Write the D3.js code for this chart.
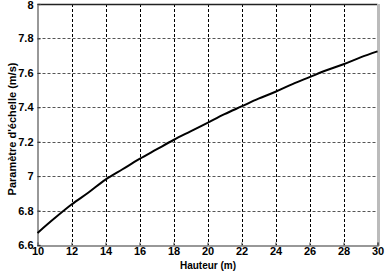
<!DOCTYPE html>
<html>
<head>
<meta charset="utf-8">
<script src="https://cdn.jsdelivr.net/npm/d3@7"></script>
<style>
    body { margin: 0; background: #fff; }
    svg text { font-family: "Liberation Sans", Arial, sans-serif; font-weight: bold; fill: #000; }
</style>
</head>
<body>
<div id="chart"></div>
<script>
// hauteur (m) et parametre d'echelle (m/s)
var hauteurs = [10, 11, 12, 13, 14, 15, 16, 17, 18, 19, 20, 21, 22, 23, 24, 25, 26, 27, 28, 29, 30];
var parametre = [6.67, 6.755, 6.835, 6.905, 6.98, 7.04, 7.10, 7.155, 7.21, 7.26, 7.31, 7.36, 7.405, 7.45, 7.49, 7.535, 7.575, 7.615, 7.65, 7.69, 7.725];
var xTicks = [10, 12, 14, 16, 18, 20, 22, 24, 26, 28, 30];
var yTicks = [6.6, 6.8, 7, 7.2, 7.4, 7.6, 7.8, 8];

var width = 386, height = 273;
// attention: "top" est deja pris par window.top
var pLeft = 37.5, pRight = 377.5, pTop = 4, pBottom = 245;

var svg = d3.select('#chart').append('svg').attr('width', width).attr('height', height);

var x = d3.scaleLinear().domain([10, 30]).range([pLeft, pRight]);
var y = d3.scaleLinear().domain([6.6, 8]).range([pBottom, pTop]);

// grille pointillee
svg.append('g').selectAll('line').data(xTicks.slice(1, -1)).enter().append('line')
    .attr('x1', function(d) { return Math.round(x(d)) + 0.5; })
    .attr('x2', function(d) { return Math.round(x(d)) + 0.5; })
    .attr('y1', pTop).attr('y2', pBottom)
    .style('stroke', '#000').style('stroke-width', 1).style('stroke-dasharray', '3,2');
svg.append('g').selectAll('line').data(yTicks.slice(1, -1)).enter().append('line')
    .attr('y1', function(d) { return Math.round(y(d)) + 0.5; })
    .attr('y2', function(d) { return Math.round(y(d)) + 0.5; })
    .attr('x1', pLeft).attr('x2', pRight)
    .style('stroke', '#555').style('stroke-width', 1).style('stroke-dasharray', '3,2');

// cadre
svg.append('line').attr('x1', pLeft).attr('x2', pRight).attr('y1', pTop + 0.5).attr('y2', pTop + 0.5)
    .style('stroke', '#222').style('stroke-width', 1.5);
svg.append('rect').attr('x', pRight - 0.5).attr('y', pTop).attr('width', 3).attr('height', pBottom - pTop + 1)
    .style('fill', '#bbb');

// axes
var xAxis = d3.axisBottom(x).tickValues(xTicks).tickSize(-3).tickPadding(2).tickFormat(d3.format('d'));
var yAxis = d3.axisLeft(y).tickValues(yTicks).tickSize(-3).tickPadding(4).tickFormat(function(d) { return String(d); });

var gx = svg.append('g').attr('transform', 'translate(0,' + (pBottom + 0.5) + ')').call(xAxis);
var gy = svg.append('g').attr('transform', 'translate(' + pLeft + ',0)').call(yAxis);
gx.select('.domain').style('stroke', '#777').style('stroke-width', 1.5);
gy.select('.domain').style('stroke', '#777').style('stroke-width', 1.5);
gx.selectAll('.tick line').style('stroke', '#333');
gy.selectAll('.tick line').style('stroke', '#333');
gx.selectAll('text').style('font-size', '11px');
gy.selectAll('text').style('font-size', '11px');
// le "8" du haut touche le bord, on le descend un peu
gy.selectAll('.tick text').filter(function(d) { return d === 8; }).attr('dy', '0.45em');

// courbe
var line = d3.line()
    .x(function(d, i) { return x(hauteurs[i]); })
    .y(function(d) { return y(d); })
    .curve(d3.curveMonotoneX);
svg.append('path').datum(parametre).attr('d', line)
    .style('fill', 'none').style('stroke', '#000').style('stroke-width', 2);

// titres des axes
svg.append('text').attr('x', 208).attr('y', 269).attr('text-anchor', 'middle')
    .style('font-size', '10px').text('Hauteur (m)');
svg.append('text').attr('transform', 'translate(16,129) rotate(-90)').attr('text-anchor', 'middle')
    .style('font-size', '11px').text("Paramètre d'échelle (m/s)");
</script>
</body>
</html>
